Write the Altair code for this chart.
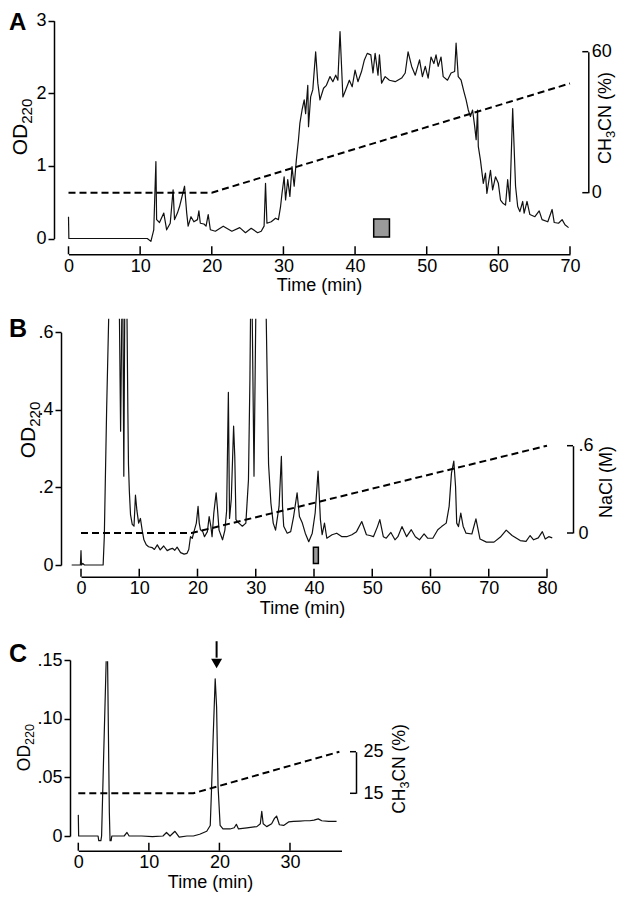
import altair as alt
import pandas as pd

W, H = 611, 884
FONT = "Liberation Sans"

# ---------------- data: panel A (RP-HPLC, CH3CN gradient) ----------------
A_TIME = [0.0, 0.05, 11.0, 11.5, 11.9, 12.2, 12.3, 12.7, 13.3, 13.7, 14.2, 14.6, 14.8, 15.2, 15.5,
          15.95, 16.2, 16.5, 16.7, 17.1, 17.5, 18.0, 18.2, 18.4, 18.9, 19.2, 19.5, 19.8, 20.5, 21.6,
          22.8, 23.9, 24.7, 25.5, 26.4, 26.9, 27.3, 27.5, 27.7, 28.3, 28.9, 29.3, 29.6, 29.8, 30.1,
          30.3, 30.6, 30.9, 31.2, 31.5, 31.8, 32.1, 32.3, 32.6, 32.9, 33.1, 33.4, 33.5, 33.8, 34.1,
          34.5, 34.8, 35.1, 35.6, 36.0, 36.5, 36.9, 37.3, 37.6, 37.9, 38.3, 38.7, 39.2, 39.6, 40.0,
          40.4, 40.9, 41.3, 41.7, 42.2, 42.5, 42.8, 43.2, 43.4, 43.7, 44.2, 44.8, 45.6, 46.5, 47.0,
          47.4, 47.9, 48.4, 49.0, 49.4, 49.8, 50.2, 50.6, 51.0, 51.3, 51.6, 52.0, 52.3, 52.9, 53.4,
          53.9, 54.1, 54.4, 54.8, 55.2, 55.5, 55.8, 56.1, 56.4, 56.7, 56.9, 57.1, 57.2, 57.5, 57.9,
          58.2, 58.4, 58.9, 59.2, 59.6, 60.0, 60.3, 60.6, 61.0, 61.3, 61.6, 62.0, 62.4, 62.7, 63.0,
          63.4, 63.6, 64.0, 64.4, 65.1, 65.7, 66.1, 66.9, 67.5, 67.8, 68.4, 68.9, 69.3, 69.8]
A_OD = [0.30, 0.0, 0.0, -0.04, 0.12, 1.06, 0.26, 0.22, 0.35, 0.12, 0.21, 0.67, 0.26, 0.35, 0.44,
        0.62, 0.72, 0.35, 0.17, 0.30, 0.23, 0.26, 0.38, 0.21, 0.20, 0.17, 0.33, 0.12, 0.10, 0.17,
        0.10, 0.15, 0.08, 0.14, 0.08, 0.10, 0.17, 0.76, 0.21, 0.23, 0.28, 0.26, 0.44, 0.62, 0.85,
        0.53, 0.81, 0.58, 0.99, 0.72, 1.08, 1.36, 1.59, 1.77, 1.91, 1.72, 2.11, 1.54, 1.95, 2.05,
        2.57, 2.14, 1.91, 2.07, 2.11, 2.23, 2.16, 2.25, 2.18, 2.85, 1.95, 2.05, 2.18, 2.09, 2.32,
        2.16, 2.30, 2.46, 2.55, 2.53, 2.28, 2.55, 2.25, 2.53, 2.14, 2.23, 2.18, 2.16, 2.21, 2.28,
        2.57, 2.37, 2.25, 2.46, 2.23, 2.37, 2.21, 2.50, 2.41, 2.53, 2.37, 2.50, 2.23, 2.18, 2.28,
        2.30, 2.69, 2.23, 2.18, 2.02, 1.91, 1.77, 1.68, 1.77, 1.54, 1.36, 1.77, 1.27, 1.08, 0.76,
        0.90, 0.62, 0.94, 0.67, 0.85, 0.76, 0.53, 0.49, 0.46, 0.81, 0.51, 1.79, 0.72, 0.44, 0.37,
        0.51, 0.35, 0.51, 0.33, 0.30, 0.38, 0.26, 0.23, 0.40, 0.22, 0.21, 0.26, 0.19, 0.15]
A_GRAD_TIME = [0, 20, 70]
A_GRAD_PCT = [0, 0, 46.5]
A_XTICKS = [0, 10, 20, 30, 40, 50, 60, 70]
A_YTICKS = [0, 1, 2, 3]
A_RTICKS = [0, 60]
A_MARK_T = [42.6, 44.8]
A_MARK_OD = [0.02, 0.27]

# ---------------- data: panel B (ion exchange, NaCl gradient) ----------------
B_TOP = 0.635  # trace leaves the visible frame at this height
B_TIME = [-1.6, -0.1, 0.0, 0.08, 0.3, 0.6, 3.8, 4.0, 4.4, 4.75,
          6.6, 6.8, 7.0,
          7.2, 7.35, 7.5,
          7.9, 8.05, 8.15, 8.3, 8.5, 8.8, 9.1, 9.35, 9.6, 9.9, 10.2, 10.5, 10.8, 11.2, 11.6, 12.2,
          12.6, 13.1, 13.6, 14.2, 14.8, 15.3, 15.7, 16.1, 16.5, 17.1, 17.7, 18.2, 18.5, 18.8, 19.1,
          19.4, 19.8, 20.1, 20.3, 20.5, 20.9, 21.2, 21.7, 22.0, 22.3, 22.5, 22.8, 23.2, 23.4, 23.7,
          24.3, 24.7, 25.0, 25.3, 25.5, 25.8, 26.2, 26.4, 26.6, 27.1, 27.7, 28.3, 28.75, 29.0, 29.1,
          29.4, 29.7, 30.0,
          31.8, 32.2, 32.6, 33.0, 33.4, 34.0, 34.4, 34.6, 34.8, 35.4, 36.0, 36.5, 37.1, 37.5, 38.0,
          38.5, 39.1, 39.7, 40.2, 40.7, 41.1, 41.4, 41.8, 42.2, 43.1, 43.9, 44.8, 45.6, 46.5, 47.3,
          48.2, 49.0, 49.6, 50.2, 50.9, 51.3, 51.9, 52.4, 53.2, 53.9, 54.4, 55.1, 55.9, 56.7, 57.4,
          58.1, 58.9, 59.5, 60.4, 61.25, 61.9, 62.7, 63.2, 63.6, 64.0, 64.3, 64.5, 64.8, 65.2, 65.6,
          66.1, 67.1, 67.8, 68.5, 69.6, 70.9, 72.0, 73.0, 74.0, 75.4, 76.4, 77.1, 77.7, 78.5, 79.2,
          79.7, 80.3, 80.9]
B_OD = [0.0, 0.0, 0.037, 0.0, 0.004, 0.0, 0.0, 0.073, 0.40, B_TOP,
        B_TOP, 0.345, B_TOP,
        B_TOP, 0.229, B_TOP,
        B_TOP, 0.39, 0.26, 0.19, 0.13, 0.105, 0.10, 0.18, 0.14, 0.108, 0.12, 0.09, 0.065, 0.052, 0.047, 0.045,
        0.040, 0.052, 0.039, 0.049, 0.037, 0.041, 0.043, 0.038, 0.046, 0.032, 0.028, 0.030, 0.040, 0.073, 0.069,
        0.086, 0.108, 0.151, 0.108, 0.091, 0.086, 0.073, 0.086, 0.125, 0.099, 0.073, 0.134, 0.186, 0.151, 0.090,
        0.065, 0.090, 0.14, 0.445, 0.12, 0.17, 0.358, 0.28, 0.117, 0.108, 0.100, 0.108, 0.22, 0.48, B_TOP,
        B_TOP, 0.229, B_TOP,
        B_TOP, 0.26, 0.16, 0.108, 0.09, 0.151, 0.28, 0.15, 0.10, 0.082, 0.086, 0.125, 0.186, 0.125, 0.108,
        0.082, 0.060, 0.082, 0.134, 0.242, 0.117, 0.078, 0.108, 0.069, 0.078, 0.082, 0.073, 0.073, 0.078, 0.086,
        0.112, 0.078, 0.076, 0.073, 0.099, 0.117, 0.073, 0.069, 0.084, 0.065, 0.073, 0.099, 0.073, 0.091, 0.073,
        0.065, 0.080, 0.069, 0.069, 0.091, 0.099, 0.108, 0.151, 0.237, 0.268, 0.203, 0.108, 0.099, 0.134, 0.10,
        0.082, 0.08, 0.119, 0.067, 0.059, 0.059, 0.072, 0.09, 0.076, 0.063, 0.061, 0.076, 0.065, 0.07, 0.086,
        0.067, 0.073, 0.07]
B_GRAD_TIME = [0, 19, 80]
B_GRAD_M = [0, 0, 0.6]
B_XTICKS = [0, 10, 20, 30, 40, 50, 60, 70, 80]
B_YTICKS = [0, 0.2, 0.4, 0.6]
B_RTICKS = [0, 0.6]
B_MARK_T = [39.9, 40.75]
B_MARK_OD = [0.004, 0.046]

# ---------------- data: panel C (RP-HPLC, shallow CH3CN gradient) ----------------
C_TOP = 0.149
C_TIME = [0.0, 0.05, 2.8, 2.9, 3.2, 3.3, 3.6, 3.95,
          4.15, 4.4, 4.5, 4.65, 4.75, 6.5, 6.9, 7.2, 9.0, 10.5, 12.0, 12.5, 13.0, 13.7, 14.3, 15.4,
          16.3, 17.2, 18.2, 18.7, 18.9, 19.1, 19.4, 19.6, 19.8, 20.1, 20.5, 21.5, 22.1, 22.4, 22.7,
          23.9, 25.3, 25.8, 26.0, 26.2, 26.7, 27.4, 27.8, 28.1, 28.5, 29.1, 29.8, 30.5, 31.4, 32.1,
          32.8, 33.4, 34.0, 34.5, 35.5, 36.6]
C_OD = [0.018, 0.0, 0.0, -0.004, -0.004, 0.0, 0.07, C_TOP,
        C_TOP, 0.02, -0.004, -0.004, 0.0, 0.0, 0.003, 0.0, 0.0, -0.0005, 0.0, 0.003, 0.0, 0.004, -0.001, 0.0,
        0.0, 0.0015, 0.004, 0.009, 0.043, 0.082, 0.134, 0.11, 0.043, 0.009, 0.006, 0.006, 0.007, 0.010, 0.006,
        0.007, 0.008, 0.0105, 0.021, 0.0105, 0.008, 0.0105, 0.015, 0.017, 0.0096, 0.009, 0.012, 0.0124, 0.0127, 0.013,
        0.013, 0.0135, 0.0146, 0.013, 0.0125, 0.0125]
C_GRAD_TIME = [0, 16.3, 37]
C_GRAD_PCT = [15, 15, 25]
C_XTICKS = [0, 10, 20, 30]
C_YTICKS = [0, 0.05, 0.10, 0.15]
C_RTICKS = [15, 25]
C_ARROW_T = 19.6
C_ARROW_OD = [0.166, 0.152, 0.147]

# axis titles with subscripts: (text piece, font size factor, baseline shift as fraction of main size)
OD_TITLE = [("OD", 1.0, 0.0), ("220", 0.72, 0.24)]
CH3CN_TITLE = [("CH", 1.0, 0.0), ("3", 0.72, 0.24), ("CN (%)", 1.0, 0.0)]
NACL_TITLE = [("NaCl (M)", 1.0, 0.0)]

# ---------------- layout (pixel positions inside the chart) ----------------
LAY = {
    "A": dict(xr=[60.5, 562], xd=[0, 70], yr=[230.5, 12.7], yd=[0, 3], rr=[184.7, 43.7], rd=[0, 60],
              lx=46, by=246.3, rx=580.3, letter_y=22, letter_size=24, xt=(311, 31), rlab=3,
              lt=dict(x=19, y=119, size=21), rt=dict(x=602.5, y=110, size=18)),
    "B": dict(xr=[73, 539], xd=[0, 80], yr=[557, 324.3], yd=[0, 0.6], rr=[525, 437.7], rd=[0, 0.6],
              lx=53, by=568.7, rx=565, letter_y=329, letter_size=25, xt=(294, 32), rlab=5,
              lt=dict(x=27, y=422, size=21), rt=dict(x=604, y=474, size=18)),
    "C": dict(xr=[70.3, 333.5], xd=[0, 37.3], yr=[828, 652], yd=[0, 0.15], rr=[785.3, 743.7], rd=[15, 25],
              lx=62, by=842.7, rx=348, letter_y=654, letter_size=25, xt=(202, 32), rlab=7,
              lt=dict(x=22, y=739.5, size=17.5), rt=dict(x=397, y=761, size=17.5)),
}

# Liberation Sans (Arial metric) advance widths, in em
ADV = {"O": 0.778, "D": 0.722, "C": 0.722, "H": 0.722, "N": 0.722, "a": 0.556, "l": 0.222,
       "M": 0.833, " ": 0.278, "(": 0.333, ")": 0.333, "%": 0.889}


def sc(domain, rng):
    return alt.Scale(domain=domain, range=rng, nice=False, zero=False)


def trace_df(times, ods, top=None):
    """Split the trace where it runs off the top of the frame (two clipped points in a row)."""
    segs, s = [], 0
    for k, v in enumerate(ods):
        if top is not None and k > 0 and v >= top and ods[k - 1] >= top:
            s += 1
        segs.append(s)
    return pd.DataFrame({"t": times, "od": ods, "seg": segs, "i": list(range(len(times)))})


def vertical_title(pieces, spec):
    """Rotated (bottom-to-top) title built from pieces so subscripts keep a real size."""
    size = spec["size"]
    widths = [sum(ADV.get(c, 0.556) for c in txt) * size * f for txt, f, _ in pieces]
    y = spec["y"] + sum(widths) / 2
    out = []
    for (txt, f, sh), w in zip(pieces, widths):
        out.append(alt.Chart(pd.DataFrame({"s": [txt]})).mark_text(
            font=FONT, fontSize=size * f, angle=270, align="left", baseline="alphabetic", color="black"
        ).encode(text="s:N", x=alt.value(spec["x"] + sh * size), y=alt.value(y)))
        y -= w
    return out


def panel(key, trace, grad, xticks, yticks, rticks, left_fmt, right_title, right_fmt):
    L = LAY[key]
    xs, ys, rs = sc(L["xd"], L["xr"]), sc(L["yd"], L["yr"]), sc(L["rd"], L["rr"])
    layers = []
    layers.append(alt.Chart(trace).mark_line(color="#111", strokeWidth=1.2, strokeJoin="round").encode(
        x=alt.X("t:Q", scale=xs, axis=alt.Axis(
            orient="bottom", offset=L["by"] - H, values=xticks, ticks=False, tickSize=0,
            labelPadding=3, format="d", title="Time (min)", titleX=L["xt"][0],
            titleY=L["xt"][1], titleAngle=0, titleAlign="center", titleBaseline="middle")),
        y=alt.Y("od:Q", scale=ys, axis=alt.Axis(
            orient="left", offset=-L["lx"], values=yticks, tickSize=6, labelPadding=2,
            labelExpr=left_fmt, title=None)),
        detail="seg:N",
        order="i:Q",
    ))
    layers.append(alt.Chart(grad).mark_line(color="black", strokeWidth=2, strokeDash=[7, 4]).encode(
        x=alt.X("t:Q", scale=xs, axis=None),
        y=alt.Y("v:Q", scale=rs, axis=alt.Axis(
            orient="right", offset=L["rx"] - W, values=rticks, ticks=False, tickSize=0,
            labelPadding=L["rlab"], labelExpr=right_fmt, title=None)),
    ))
    # inward ticks on the time axis
    layers.append(alt.Chart(pd.DataFrame({"t": xticks})).mark_rule(color="black", strokeWidth=1.5).encode(
        x=alt.X("t:Q", scale=xs, axis=None), y=alt.value(L["by"] - 8), y2=alt.value(L["by"])))
    # inward ticks of the gradient bracket
    layers.append(alt.Chart(pd.DataFrame({"v": rticks})).mark_rule(color="black", strokeWidth=1.5).encode(
        y=alt.Y("v:Q", scale=rs, axis=None), x=alt.value(L["rx"] - 6), x2=alt.value(L["rx"])))
    layers.append(alt.Chart(pd.DataFrame({"s": [key]})).mark_text(
        font=FONT, fontSize=L["letter_size"], fontWeight="bold", align="left", baseline="alphabetic",
        color="black"
    ).encode(text="s:N", x=alt.value(1), y=alt.value(L["letter_y"])))
    layers += vertical_title(OD_TITLE, L["lt"])
    layers += vertical_title(right_title, L["rt"])
    return layers, xs, ys


fmt_int = "format(datum.value, 'd')"
fmt_1 = "datum.value == 0 ? '0' : replace(format(datum.value, '.1f'), '0.', '.')"
fmt_2 = "datum.value == 0 ? '0' : replace(format(datum.value, '.2f'), '0.', '.')"

layA, xsA, ysA = panel("A", trace_df(A_TIME, A_OD), pd.DataFrame({"t": A_GRAD_TIME, "v": A_GRAD_PCT}),
                       A_XTICKS, A_YTICKS, A_RTICKS, fmt_int, CH3CN_TITLE, fmt_int)
layB, xsB, ysB = panel("B", trace_df(B_TIME, B_OD, B_TOP), pd.DataFrame({"t": B_GRAD_TIME, "v": B_GRAD_M}),
                       B_XTICKS, B_YTICKS, B_RTICKS, fmt_1, NACL_TITLE, fmt_1)
layC, xsC, ysC = panel("C", trace_df(C_TIME, C_OD, C_TOP), pd.DataFrame({"t": C_GRAD_TIME, "v": C_GRAD_PCT}),
                       C_XTICKS, C_YTICKS, C_RTICKS, fmt_2, CH3CN_TITLE, fmt_int)

marker_style = dict(fill="#9a9a9a", stroke="black", strokeWidth=1.5)
markA = alt.Chart(pd.DataFrame({"t0": [A_MARK_T[0]], "t1": [A_MARK_T[1]],
                                "y0": [A_MARK_OD[0]], "y1": [A_MARK_OD[1]]})).mark_rect(**marker_style).encode(
    x=alt.X("t0:Q", scale=xsA, axis=None), x2="t1:Q",
    y=alt.Y("y0:Q", scale=ysA, axis=None), y2="y1:Q")
markB = alt.Chart(pd.DataFrame({"t0": [B_MARK_T[0]], "t1": [B_MARK_T[1]],
                                "y0": [B_MARK_OD[0]], "y1": [B_MARK_OD[1]]})).mark_rect(**marker_style).encode(
    x=alt.X("t0:Q", scale=xsB, axis=None), x2="t1:Q",
    y=alt.Y("y0:Q", scale=ysB, axis=None), y2="y1:Q")

arrow_shaft = alt.Chart(pd.DataFrame({"t": [C_ARROW_T], "a": [C_ARROW_OD[0]], "b": [C_ARROW_OD[1]]})).mark_rule(
    color="black", strokeWidth=2).encode(
    x=alt.X("t:Q", scale=xsC, axis=None), y=alt.Y("a:Q", scale=ysC, axis=None), y2="b:Q")
arrow_head = alt.Chart(pd.DataFrame({"t": [C_ARROW_T], "h": [C_ARROW_OD[2]]})).mark_point(
    shape="triangle-down", filled=True, color="black", size=120, opacity=1).encode(
    x=alt.X("t:Q", scale=xsC, axis=None), y=alt.Y("h:Q", scale=ysC, axis=None))

chart = alt.layer(*layA, markA, *layB, markB, *layC, arrow_shaft, arrow_head).resolve_scale(
    x="independent", y="independent"
).properties(
    width=W, height=H, autosize=alt.AutoSizeParams(type="none"), padding=0, background="white"
).configure_axis(
    labelFont=FONT, labelFontSize=18, labelColor="black", titleFont=FONT, titleFontSize=18,
    titleColor="black", titleFontWeight="normal", domainColor="black", domainWidth=1.5,
    tickColor="black", tickWidth=1.5, grid=False, labelFlush=False, labelOverlap=False
).configure_view(stroke=None)

chart.save("out.html", embed_options={"renderer": "svg", "actions": False})
